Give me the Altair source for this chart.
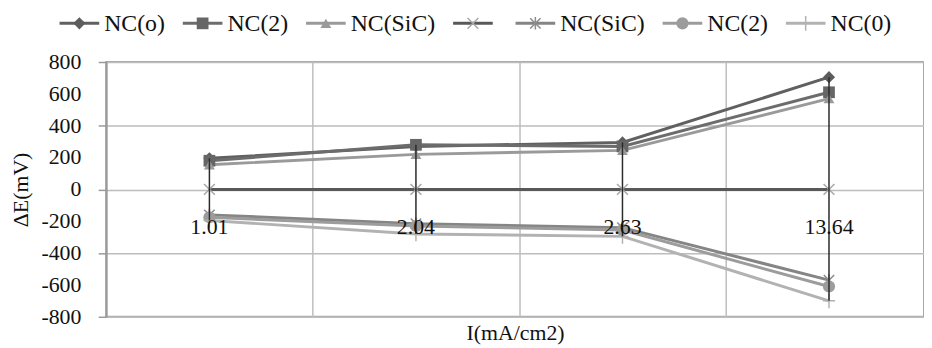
import altair as alt
import pandas as pd

categories = ["1.01", "2.04", "2.63", "13.64"]
series_names = ["NC(o)", "NC(2)", "NC(SiC)", "", "NC(SiC)", "NC(2)", "NC(0)"]
v_nc_o = [195, 270, 295, 705]
v_nc_2 = [180, 280, 270, 610]
v_nc_sic = [155, 220, 245, 570]
v_zero = [0, 0, 0, 0]
v_nc_sic_neg = [-160, -215, -240, -570]
v_nc_2_neg = [-175, -230, -255, -610]
v_nc_0_neg = [-195, -280, -295, -700]
series_values = [v_nc_o, v_nc_2, v_nc_sic, v_zero, v_nc_sic_neg, v_nc_2_neg, v_nc_0_neg]
y_ticks = [-800, -600, -400, -200, 0, 200, 400, 600, 800]

line_colors = ["#606060", "#6c6c6c", "#9a9a9a", "#585858", "#858585", "#9c9c9c", "#b2b2b2"]
marker_colors = ["#5c5c5c", "#666666", "#9a9a9a", "#a8a8a8", "#8c8c8c", "#9c9c9c", "#b2b2b2"]

SERIF = "Liberation Serif"
LEG_FS = 24
# Times-metric glyph widths (em) used to lay out the legend entries
GLYPH_W = {"N": 0.722, "C": 0.667, "(": 0.333, ")": 0.333, "o": 0.5, "2": 0.5,
           "S": 0.556, "i": 0.278, "0": 0.5}

keys = [f"s{i}" for i in range(len(series_names))]

rows = []
for key, vals in zip(keys, series_values):
    for i, v in enumerate(vals):
        rows.append({"key": key, "idx": i, "value": v})
df = pd.DataFrame(rows)
cat_df = pd.DataFrame({"idx": list(range(len(categories))), "label": categories})
ytick_df = pd.DataFrame({"tick": y_ticks, "label": [str(t) for t in y_ticks]})

# legend layout (pixels relative to the plot's left edge)
leg_rows = []
pos = -47.0
for key, name, lc in zip(keys, series_names, line_colors):
    w = sum(GLYPH_W.get(ch, 0.5) for ch in name) * LEG_FS
    leg_rows.append({"key": key, "name": name, "col": lc,
                     "x0": pos, "x1": pos + 40, "xm": pos + 20, "xl": pos + 45})
    pos += 45 + w + 18
leg_df = pd.DataFrame(leg_rows)
LEG_Y = -39

X_PATH = "M-1,-1L1,1M-1,1L1,-1"
AST_PATH = "M-1,-1L1,1M-1,1L1,-1M0,-1.2L0,1.2"
PLUS_PATH = "M-1,0L1,0M0,-1.2L0,1.2"
marker_specs = [
    dict(shape="diamond", filled=True, size=150),
    dict(shape="square", filled=True, size=140),
    dict(shape="triangle-up", filled=True, size=120),
    dict(shape=X_PATH, filled=False, size=120, strokeWidth=1.5),
    dict(shape=AST_PATH, filled=False, size=110, strokeWidth=1.5),
    dict(shape="circle", filled=True, size=150),
    dict(shape=PLUS_PATH, filled=False, size=150, strokeWidth=1.5),
]

base = alt.Chart(df)

x_enc = alt.X(
    "idx:Q",
    scale=alt.Scale(domain=[-0.5, 3.46], nice=False, zero=False),
    axis=alt.Axis(values=[0.5, 1.5, 2.5], labels=False, ticks=False, domain=False,
                  grid=True, title="I(mA/cm2)", titlePadding=6),
)
y_enc = alt.Y(
    "value:Q",
    scale=alt.Scale(domain=[-800, 800], nice=False),
    axis=alt.Axis(values=y_ticks, title="ΔE(mV)", grid=True, labels=False,
                  titlePadding=66),
)

lines = base.mark_line(strokeWidth=3).encode(
    x=x_enc,
    y=y_enc,
    color=alt.Color("key:N", scale=alt.Scale(domain=keys, range=line_colors), legend=None),
    order="idx:Q",
)

points = []
for key, col, spec in zip(keys, marker_colors, marker_specs):
    points.append(
        base.transform_filter(alt.datum.key == key)
        .mark_point(color=col, opacity=1, **spec)
        .encode(x="idx:Q", y="value:Q")
    )

rules = base.transform_aggregate(
    hi="max(value)", lo="min(value)", groupby=["idx"]
).mark_rule(color="#2a2a2a", strokeWidth=1.5).encode(x="idx:Q", y="hi:Q", y2="lo:Q")

cat_labels = alt.Chart(cat_df).mark_text(
    dy=38, font=SERIF, fontSize=22, color="#111111"
).encode(x="idx:Q", y=alt.datum(0), text="label:N")

ytick_labels = alt.Chart(ytick_df).mark_text(
    align="right", baseline="middle", dx=-25, font=SERIF, fontSize=22, color="#111111"
).encode(x=alt.datum(-0.5), y="tick:Q", text="label:N")

leg_base = alt.Chart(leg_df)
leg_lines = leg_base.mark_rule(strokeWidth=3).encode(
    x=alt.X("x0:Q", scale=None), x2="x1:Q", y=alt.value(LEG_Y),
    color=alt.Color("col:N", scale=None),
)
leg_marks = []
for key, col, spec in zip(keys, marker_colors, marker_specs):
    leg_marks.append(
        leg_base.transform_filter(alt.datum.key == key)
        .mark_point(color=col, opacity=1, **spec)
        .encode(x=alt.X("xm:Q", scale=None), y=alt.value(LEG_Y))
    )
leg_text = leg_base.mark_text(
    align="left", baseline="middle", font=SERIF, fontSize=LEG_FS, color="#111111"
).encode(x=alt.X("xl:Q", scale=None), y=alt.value(LEG_Y + 1), text="name:N")

chart = alt.layer(
    lines, *points, rules, cat_labels, ytick_labels, leg_lines, *leg_marks, leg_text
).properties(
    width=825,
    height=257,
    autosize=alt.AutoSizeParams(type="none"),
    padding={"left": 99, "top": 53, "right": 0, "bottom": 30},
    background="white",
).configure_view(
    stroke="#a8a8a8", strokeWidth=2
).configure_axis(
    gridColor="#bdbdbd", gridWidth=1.5,
    domainColor="#9a9a9a", domainWidth=2,
    tickColor="#9a9a9a", tickSize=8, tickWidth=1.5,
    labelFont=SERIF, labelFontSize=22, labelColor="#111111",
    titleFont=SERIF, titleFontSize=22, titleFontWeight="normal", titleColor="#111111",
)

chart.save("out.html", embed_options={"renderer": "svg", "actions": False})
